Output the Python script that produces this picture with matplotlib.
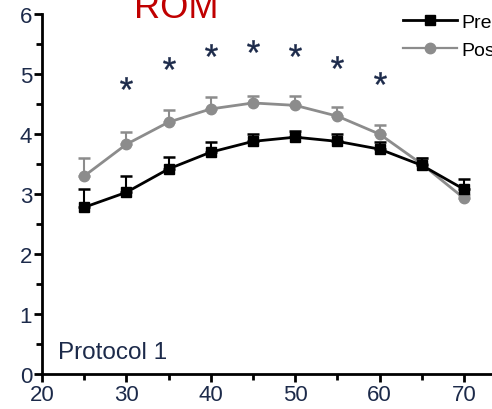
import numpy as np
import matplotlib.pyplot as plt
from matplotlib.ticker import MultipleLocator
from matplotlib.lines import Line2D

plt.rcParams['font.family'] = ['Liberation Sans', 'DejaVu Sans']
plt.rcParams['mathtext.fontset'] = 'custom'
plt.rcParams['mathtext.rm'] = 'Liberation Sans'
plt.rcParams['mathtext.it'] = 'Liberation Sans'

x = [25, 30, 35, 40, 45, 50, 55, 60, 65, 70]
pre = [2.78, 3.03, 3.42, 3.70, 3.88, 3.95, 3.88, 3.75, 3.48, 3.08]
pre_err = [0.30, 0.28, 0.20, 0.17, 0.13, 0.10, 0.12, 0.12, 0.12, 0.17]
post = [3.30, 3.83, 4.20, 4.42, 4.52, 4.48, 4.30, 4.00, 3.50, 2.93]
post_err = [0.30, 0.20, 0.20, 0.20, 0.12, 0.15, 0.15, 0.15, 0.10, 0.05]
star_x = [30, 35, 40, 45, 50, 55, 60]
star_y = [4.85, 5.18, 5.40, 5.47, 5.40, 5.20, 4.93]

txt = '#1c2a4a'
grey = '#8c8c8c'

fig = plt.figure(figsize=(4.92, 4.10), dpi=100)
ax = fig.add_axes([0.085, 0.085, 0.915, 0.878])

ax.errorbar(x, pre, yerr=[np.zeros(len(pre)), pre_err], color='black', lw=2,
            marker='s', ms=7, capsize=4, capthick=1.8, elinewidth=1.5, zorder=3)
ax.errorbar(x, post, yerr=[np.zeros(len(post)), post_err], color=grey, lw=2,
            marker='o', ms=7.5, capsize=4, capthick=1.8, elinewidth=1.5, zorder=2)
ax.plot(star_x, star_y, ls='none', marker='$*$', ms=9, mew=0.3, color=txt)

ax.set_xlim(20, 73.3)
ax.set_ylim(0, 6)
ax.xaxis.set_major_locator(MultipleLocator(10))
ax.xaxis.set_minor_locator(MultipleLocator(5))
ax.yaxis.set_major_locator(MultipleLocator(1))
ax.yaxis.set_minor_locator(MultipleLocator(0.5))
for s in ['top', 'right']:
    ax.spines[s].set_visible(False)
for s in ['left', 'bottom']:
    ax.spines[s].set_linewidth(2)
ax.tick_params(which='major', length=6, width=2, labelsize=16, labelcolor=txt, pad=1)
ax.tick_params(which='minor', length=4, width=2)

ax.text(0.035, 0.045, 'Protocol 1', transform=ax.transAxes, fontsize=17.5, color=txt)
fig.text(134 / 492, 1 - 18 / 410, 'ROM', fontsize=26, color='#c00000')

handles = [Line2D([], [], color='black', lw=2, marker='s', ms=7),
           Line2D([], [], color=grey, lw=1.6, marker='o', ms=7.5)]
ax.legend(handles, ['Pre', 'Post'], loc='upper left', bbox_to_anchor=(403 / 492, 1 - 14 / 410),
          bbox_transform=fig.transFigure, frameon=False, fontsize=14,
          handlelength=2.8, handletextpad=0.2, borderpad=0, borderaxespad=0,
          labelspacing=0.55)

plt.savefig('out.png')
